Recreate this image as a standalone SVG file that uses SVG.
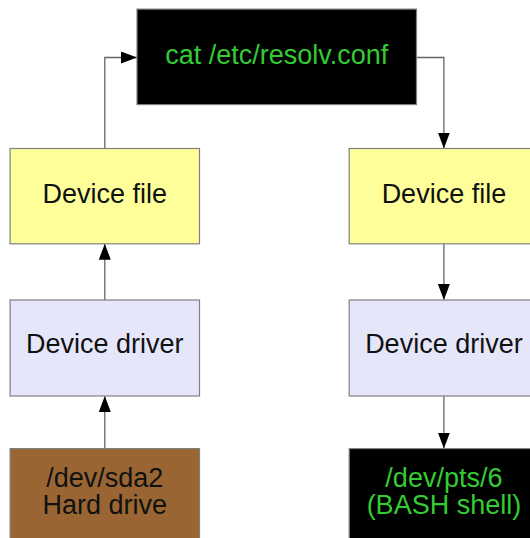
<svg xmlns="http://www.w3.org/2000/svg" width="530" height="538" viewBox="0 0 530 538">
<style>
.box{stroke:#808080;stroke-width:1.2}
.t{font-family:"Liberation Sans",Arial,sans-serif;font-size:27px;text-anchor:middle;fill:#111}
.g{fill:#33cc33}
.c{fill:none;stroke:#666;stroke-width:1.3}
</style>
<defs>
<marker id="ah" markerUnits="userSpaceOnUse" markerWidth="17" markerHeight="13" refX="16" refY="6" orient="auto">
<path d="M0,0 L16,6 L0,12 z" fill="#000"/>
</marker>
</defs>
<rect width="530" height="538" fill="#fff"/>
<g id="connectors">
<path class="c" d="M104.8,148.5 V57.5 H137" marker-end="url(#ah)"/>
<path class="c" d="M416.5,57.5 H443.9 V148.5" marker-end="url(#ah)"/>
<path class="c" d="M104.8,300 V243.8" marker-end="url(#ah)"/>
<path class="c" d="M104.8,448.6 V396" marker-end="url(#ah)"/>
<path class="c" d="M443.9,243.8 V300" marker-end="url(#ah)"/>
<path class="c" d="M443.9,396 V448.6" marker-end="url(#ah)"/>
</g>
<g id="cat">
<rect class="box" x="137" y="9.1" width="279.5" height="95.5" fill="#000"/>
<text class="t g" x="276.8" y="64.2">cat /etc/resolv.conf</text>
</g>
<g id="file-left">
<rect class="box" x="10.1" y="148.5" width="189.4" height="95.3" fill="#ffff99"/>
<text class="t" x="104.8" y="202.9">Device file</text>
</g>
<g id="file-right">
<rect class="box" x="349.2" y="148.5" width="189.4" height="95.3" fill="#ffff99"/>
<text class="t" x="443.9" y="202.9">Device file</text>
</g>
<g id="driver-left">
<rect class="box" x="10.1" y="300" width="189.4" height="96" fill="#e6e6fa"/>
<text class="t" x="104.8" y="353">Device driver</text>
</g>
<g id="driver-right">
<rect class="box" x="349.2" y="300" width="189.4" height="96" fill="#e6e6fa"/>
<text class="t" x="443.9" y="353">Device driver</text>
</g>
<g id="hard-drive">
<rect class="box" x="10.1" y="448.6" width="189.4" height="100" fill="#996633"/>
<text class="t" x="104.8" y="486.7">/dev/sda2</text>
<text class="t" x="104.8" y="514">Hard drive</text>
</g>
<g id="bash">
<rect class="box" x="349.2" y="448.6" width="189.4" height="100" fill="#000"/>
<text class="t g" x="443.9" y="486.7">/dev/pts/6</text>
<text class="t g" x="443.9" y="514">(BASH shell)</text>
</g>
</svg>
